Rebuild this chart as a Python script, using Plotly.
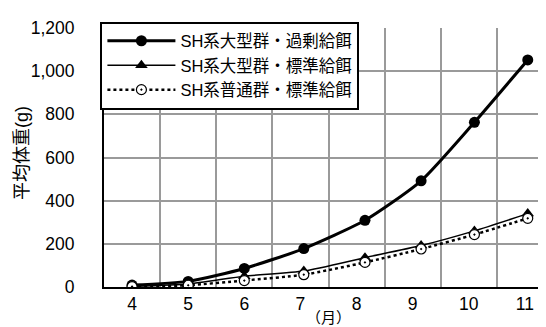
import plotly.graph_objects as go

months = [4.0, 5.0, 6.0, 7.06, 8.15, 9.15, 10.1, 11.05]
tick_vals = [4, 5, 6, 7, 8, 9, 10, 11]
tick_text = ["4", "5", "6", "7", "8", "9", "10", "11"]

large_over = [9, 26, 86, 178, 309, 492, 763, 1052]
large_std = [3, 14, 50, 74, 136, 192, 260, 340]
normal_std = [2, 8, 30, 57, 114, 176, 243, 318]

names = ["SH系大型群・過剰給餌", "SH系大型群・標準給餌", "SH系普通群・標準給餌"]
x_title = "（月）"
y_title = "平均体重(g)"

FONT = "Liberation Sans, Arial, Noto Sans CJK JP, sans-serif"

fig = go.Figure()
fig.add_trace(go.Scatter(
    x=months, y=large_over, name=names[0], mode="lines+markers",
    line=dict(color="black", width=3, shape="spline", smoothing=0.6),
    marker=dict(symbol="circle", size=11, color="black"),
))
fig.add_trace(go.Scatter(
    x=months, y=large_std, name=names[1], mode="lines+markers",
    line=dict(color="black", width=1.5, shape="spline", smoothing=0.6),
    marker=dict(symbol="triangle-up", size=11, color="black"),
))
fig.add_trace(go.Scatter(
    x=months, y=normal_std, name=names[2], mode="lines+markers",
    line=dict(color="black", width=2.5, dash="dot", shape="spline", smoothing=0.6),
    marker=dict(symbol="circle-dot", size=10, color="white",
                line=dict(color="black", width=1.2)),
))

fig.update_layout(
    width=546, height=327,
    margin=dict(l=96, r=1, t=20, b=48),
    paper_bgcolor="white", plot_bgcolor="white",
    font=dict(family=FONT, color="black", size=16),
    showlegend=True,
    legend=dict(
        x=-0.008, y=1.025, xanchor="left", yanchor="top",
        bgcolor="white", bordercolor="black", borderwidth=2,
        font=dict(size=16.5, family=FONT, color="black"),
        itemwidth=68, tracegroupgap=0,
    ),
    xaxis=dict(
        range=[3.5, 11.5],
        tickmode="array", tickvals=tick_vals, ticktext=tick_text,
        showgrid=False,
        showline=True, linecolor="black", linewidth=2,
        ticks="", tickfont=dict(size=17.5, color="black"),
        zeroline=False,
    ),
    yaxis=dict(
        range=[0, 1200], dtick=200, tickformat=",d",
        showgrid=True, gridcolor="#9a9a9a", gridwidth=1.5,
        showline=True, linecolor="black", linewidth=2,
        ticks="", ticklabelstandoff=24, tickfont=dict(size=17.5, color="black"),
        zeroline=False,
    ),
    annotations=[
        dict(text=x_title, xref="paper", yref="paper", x=0.5, y=-0.116,
             xanchor="center", yanchor="middle", showarrow=False,
             font=dict(size=15, color="black", family=FONT)),
        dict(text=y_title, xref="paper", yref="paper", x=-0.183, y=0.517,
             xanchor="center", yanchor="middle", showarrow=False, textangle=-90,
             font=dict(size=18, color="black", family=FONT)),
    ],
)

fig.update_xaxes(minor=dict(tickvals=[3.5 + i for i in range(9)], showgrid=True,
                            gridcolor="#9a9a9a", gridwidth=1.5))

fig.write_html("out.html")
